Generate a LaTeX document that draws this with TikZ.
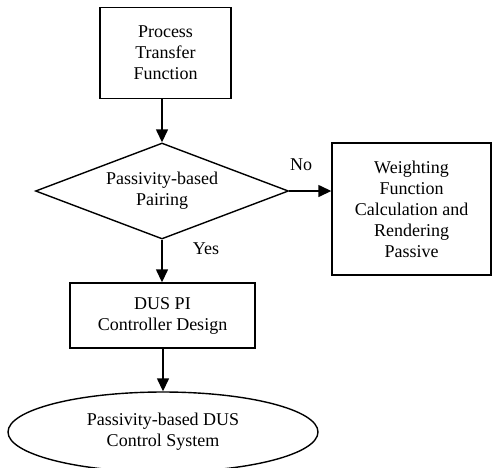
\documentclass[tikz,border=0pt]{standalone}
\usepackage{fontspec}
\setmainfont{Liberation Serif}
\usetikzlibrary{shapes.geometric, arrows.meta, positioning}
\tikzset{
stepbox/.style={draw, line width=1.4pt, align=center, inner sep=0pt},
decision/.style={diamond, draw, line width=1.4pt, align=center, inner sep=0pt,
  aspect=2.64, minimum width=253pt, minimum height=96pt},
terminal/.style={ellipse, draw, line width=1.4pt, align=center, inner sep=0pt,
  minimum width=310pt, minimum height=80pt},
flow/.style={line width=1.4pt, -{Triangle[length=13pt,width=12pt]}},
every node/.style={font=\fontsize{18}{21}\selectfont}
}
\begin{document}
\begin{tikzpicture}[x=1pt, y=-1pt]
  \useasboundingbox (0,0) rectangle (492,467);
  \node[stepbox, minimum width=131pt, minimum height=91pt] (ptf) at (165.5,53) {Process\\Transfer\\Function};
  \node[decision] (pair) at (162,191) {Passivity-based\\Pairing};
  \node[stepbox, minimum width=159pt, minimum height=132pt] (wfc) at (411.5,209) {Weighting\\Function\\Calculation and\\Rendering\\Passive};
  \node[stepbox, minimum width=185pt, minimum height=65pt] (dus) at (162.5,315.5) {DUS PI\\Controller Design};
  \node[terminal] (sys) at (163,432) {Passivity-based DUS\\Control System};
  \node (no) at (301,165) {No};
  \node (yes) at (206,249) {Yes};
\draw[flow] (ptf.south -| pair.north) -- (pair.north);
\draw[flow] (pair.east) -- (pair.east -| wfc.west);
\draw[flow] (pair.south) -- (dus.north -| pair.south);
\draw[flow] (dus.south -| sys.north) -- (sys.north);
\end{tikzpicture}
\end{document}
